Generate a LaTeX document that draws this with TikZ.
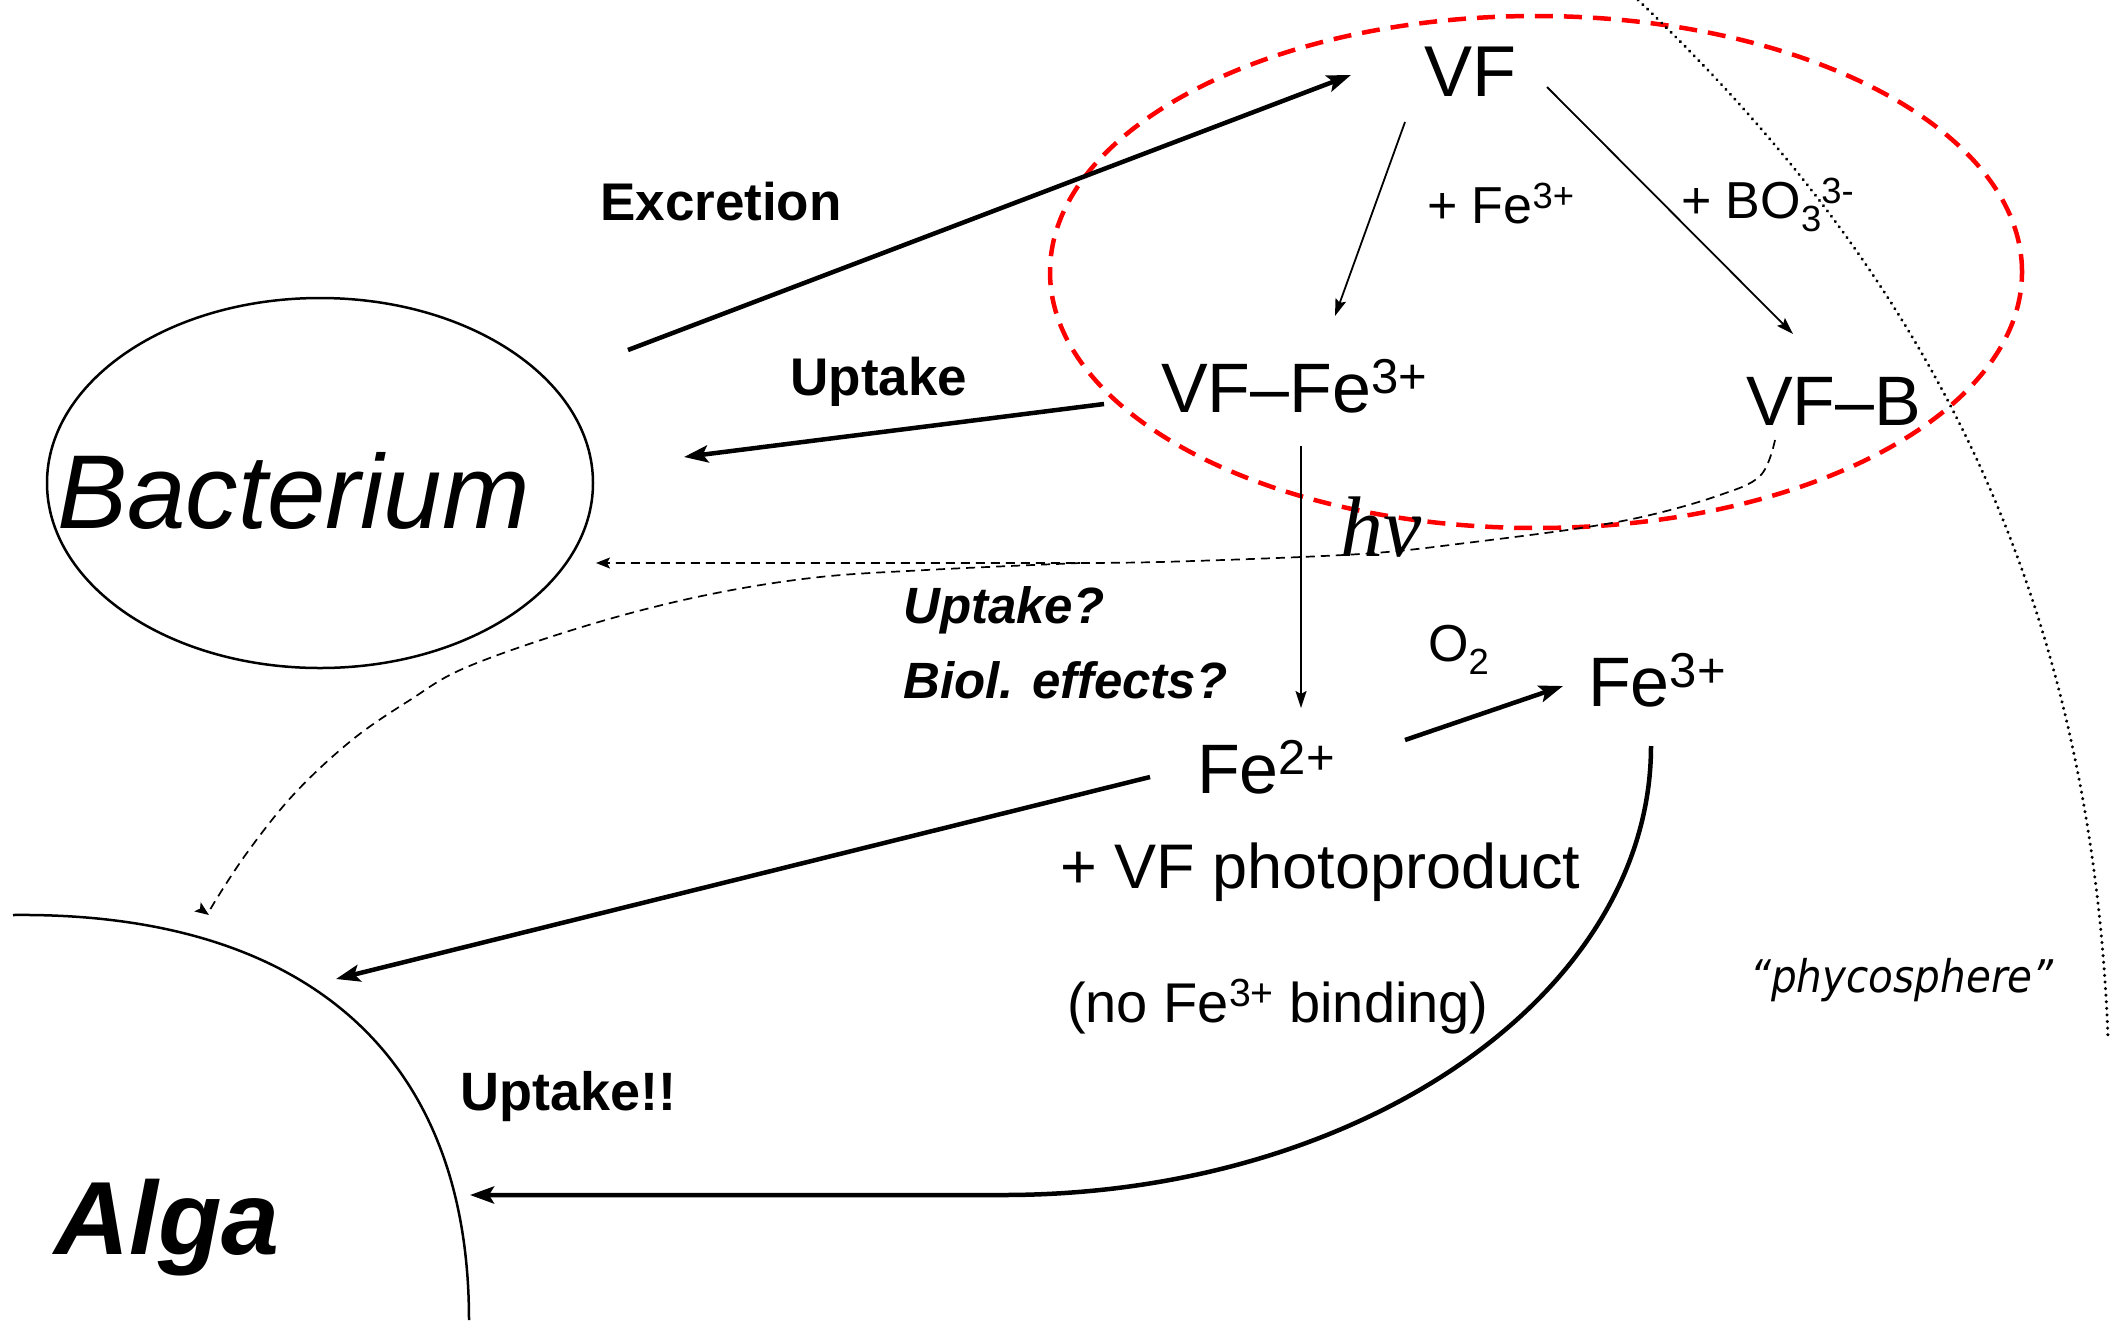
\documentclass[tikz,border=0pt]{standalone}
\usepackage{graphicx}
\usepackage{fontspec}
\setmainfont{Liberation Sans}
\newfontfamily\tnrfont{Liberation Serif}
\newfontfamily\vrdfont[FakeStretch=0.9]{DejaVu Sans}
\usetikzlibrary{arrows.meta,shapes.geometric}
\newcommand\Sp[1]{\raisebox{0.27em}{\scalebox{0.7}{#1}}}
\newcommand\Sb[1]{\raisebox{-0.25em}{\scalebox{0.7}{#1}}}
\newcommand\fs[1]{\fontsize{#1}{#1}\selectfont}
\begin{document}
\begin{tikzpicture}[x=1pt,y=-1pt,
  lbl/.style={inner sep=0pt, anchor=base west},
  big/.style={font=\fs{70}},
  mid/.style={font=\fs{52}},
  bld/.style={font=\fs{53}\bfseries},
  bldit/.style={font=\fs{51}\bfseries\itshape},
  thk/.style={line width=4.5pt, -{Stealth[length=24pt,width=17pt,inset=5pt]}},
  thn/.style={line width=1.8pt, -{Stealth[length=17pt,width=11pt,inset=3pt]}},
  dsh/.style={line width=1.7pt, dash pattern=on 9pt off 6pt, -{Stealth[length=14pt,width=11pt,inset=3pt]}}]
\useasboundingbox (0,0) rectangle (2125,1320);

% regions
\node[ellipse, draw=red, line width=4.5pt, dash pattern=on 18pt off 11pt,
      minimum width=972pt, minimum height=512pt, inner sep=0pt] (zone) at (1536,272) {};
\node[ellipse, draw, line width=2.5pt, minimum width=546pt, minimum height=370pt, inner sep=0pt] (bact) at (320,483) {};
\node[lbl, font=\fs{105}\itshape] (bacttxt) at (57,528) {Bacterium};
\draw[line width=2.5pt] (13,915) coordinate (algatop) .. controls (300,912) and (469,1050) .. (469,1320) coordinate (algabot);
\node[lbl, font=\fs{104}\bfseries\itshape] (algatxt) at (54,1254) {Alga};
\draw[line width=3.3pt, line cap=round, dash pattern=on 0.1pt off 6.5pt]
  (1638,0) coordinate (phtop) .. controls (1900,250) and (2090,560) .. (2108,1038) coordinate (phbot);

% species
\node[inner sep=0pt, anchor=base, font=\fs{72}] (vf) at (1470,96) {VF};
\node[lbl, big] (vffe) at (1161,412) {VF–Fe\Sp{3+}};
\node[lbl, big] (vfb) at (1746,425) {VF–B};
\node[lbl, big] (fe2) at (1197,793) {Fe\Sp{2+}};
\node[lbl, big] (fe3) at (1588,706) {Fe\Sp{3+}};
\node[lbl, font=\fs{63}] (photo) at (1060,888) {+ VF photoproduct};
\node[lbl, font=\fs{56}] (nobind) at (1067,1022) {(no Fe\Sp{3+} binding)};

% reagent labels
\node[lbl, mid] (addfe) at (1427,223) {+ Fe\Sp{3+}};
\node[lbl, mid] (addbo) at (1681,218) {+ BO\Sb{3}\Sp{3-}};
\node[lbl, mid] (o2) at (1428,661) {O\Sb{2}};
\node[lbl, font=\fs{86}\tnrfont\itshape] (hnu) at (1340,556) {hν};

% process labels
\node[lbl, bld] (excr) at (600,220) {Excretion};
\node[inner sep=0pt, anchor=base, bld] (upt) at (879,395) {Uptake};
\node[lbl, bldit] (uptq) at (903,623) {Uptake?};
\node[lbl, bldit] (biol) at (903,698) {Biol. effects?};
\node[lbl, font=\fs{54}\bfseries] (uptex) at (460,1110) {Uptake!!};
\node[lbl, font=\fs{45}\vrdfont\itshape] (phyc) at (1750,992) {“phycosphere”};

% connector end points
\coordinate (excrA) at (628,350);  \coordinate (excrB) at (1351,75);
\coordinate (uptA) at (1104,404);  \coordinate (uptB) at (684,457);
\coordinate (vfA) at (1405,122);   \coordinate (vfB) at (1335,316);
\coordinate (vfC) at (1547,87);    \coordinate (vfD) at (1793,334);
\coordinate (hvA) at (1301,446);   \coordinate (hvB) at (1301,708);
\coordinate (oxA) at (1405,740);   \coordinate (oxB) at (1563,686);
\coordinate (f2A) at (1150,777);   \coordinate (f2B) at (336,979);
\coordinate (f3A) at (1651,746);   \coordinate (f3B) at (1003,1195); \coordinate (f3C) at (470,1195);
\coordinate (vbA) at (1775,440);   \coordinate (br) at (1080,563); \coordinate (bactin) at (596,563);
\coordinate (algin) at (209,915);

% connectors
\draw[thk] (excrA) -- (excrB);
\draw[thk] (uptA) -- (uptB);
\draw[thn] (vfA) -- (vfB);
\draw[thn] (vfC) -- (vfD);
\draw[thn] (hvA) -- (hvB);
\draw[thk] (oxA) -- (oxB);
\draw[thk] (f2A) -- (f2B);
\draw[thk] (f3A) .. controls (1651,994) and (1361,1195) .. (f3B) -- (f3C);
\draw[dsh] plot[smooth, tension=0.6] coordinates {(vbA) (1760,476) (1717,496) (1646,516) (1574,529) (1466,543) (1387,552) (1301,557) (1160,562) (br)} -- (bactin);
\draw[dsh] plot[smooth, tension=0.6] coordinates {(br) (926,570) (811,578) (697,597) (582,627) (467,667) (410,700) (352,740) (295,793) (249,850) (214,903) (algin)};
\end{tikzpicture}
\end{document}
